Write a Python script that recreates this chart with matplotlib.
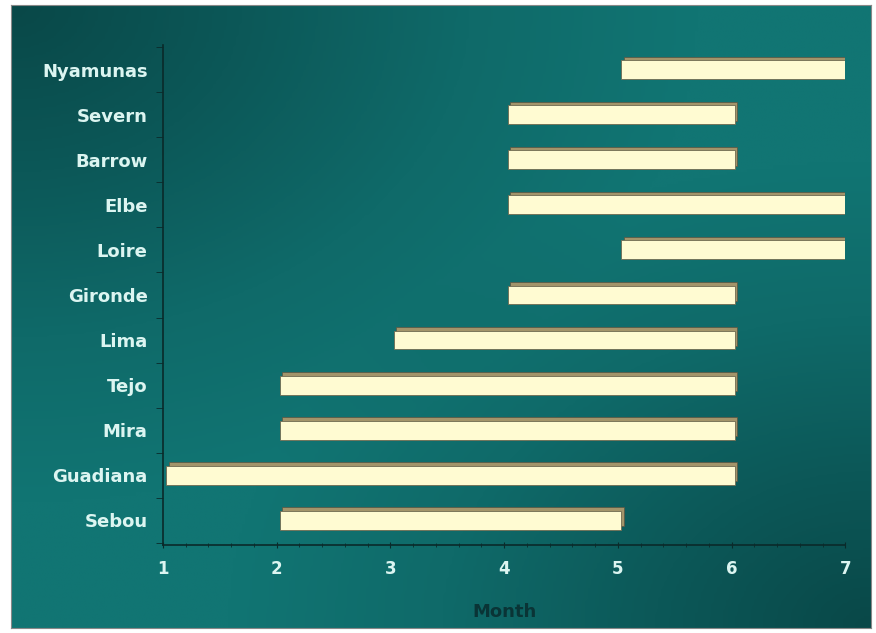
import numpy as np
import matplotlib
matplotlib.use("Agg")
import matplotlib.pyplot as plt
from matplotlib.colors import LinearSegmentedColormap

rivers = ["Sebou", "Guadiana", "Mira", "Tejo", "Lima", "Gironde",
          "Loire", "Elbe", "Barrow", "Severn", "Nyamunas"]
start_month = [2, 1, 2, 2, 3, 4, 5, 4, 4, 4, 5]
end_month = [5, 6, 6, 6, 6, 6, 7, 7, 6, 6, 7]

plt.rcParams["font.family"] = ["DejaVu Sans"]

fig = plt.figure(figsize=(8.76, 6.33), dpi=100)
fig.patch.set_facecolor("white")

# teal backdrop, darker towards top-left and bottom-right
bg = fig.add_axes([0.012, 0.008, 0.982, 0.984])
yy, xx = np.mgrid[0:1:200j, 0:1:300j]
tl = np.clip(1 - np.sqrt(xx ** 2 + yy ** 2) / 0.8, 0, 1)
br = np.clip(1 - np.sqrt((1 - xx) ** 2 + (1 - yy) ** 2) / 0.75, 0, 1)
dark = np.clip(tl + br, 0, 1)
cmap = LinearSegmentedColormap.from_list("teal", ["#117573", "#0f6a69", "#0c5858", "#094848"])
bg.imshow(dark, cmap=cmap, aspect="auto", extent=[0, 1, 0, 1], origin="upper", vmin=0, vmax=1)
bg.set_xticks([])
bg.set_yticks([])
for s in bg.spines.values():
    s.set_color("#888888")
    s.set_linewidth(0.8)

ax = fig.add_axes([0.186, 0.139, 0.779, 0.79])
ax.patch.set_alpha(0)
y = np.arange(len(rivers))
width = np.array(end_month) - np.array(start_month)
h = 0.42
# shaded top/side of each bar, then the face
ax.barh(y + 0.08, width, left=np.array(start_month) + 0.05, height=h,
        color="#a3946a", edgecolor="#5a5440", linewidth=0.5, zorder=2)
ax.barh(y, width, left=np.array(start_month) + 0.03, height=h, color="#fffbd2",
        edgecolor="#6e6a50", linewidth=0.6, zorder=3)

ax.set_xlim(1, 7)
ax.set_ylim(-0.55, len(rivers) - 0.45)
ax.set_xticks(range(1, 8))
ax.set_xticks(np.arange(1, 7.01, 0.2), minor=True)
ax.set_yticks(y)
ax.set_yticklabels(rivers)
ax.set_yticks(np.arange(-0.5, len(rivers), 1.0), minor=True)
ax.tick_params(axis="y", which="major", length=0, pad=11, labelsize=13,
               labelcolor="#dcf5f1")
ax.tick_params(axis="y", which="minor", length=5, color="#0a2a2a", direction="out")
ax.tick_params(axis="x", which="major", length=5, color="#0a2a2a", direction="inout",
               labelsize=12, labelcolor="#dcf5f1", pad=8)
ax.tick_params(axis="x", which="minor", length=3, color="#0a2a2a", direction="inout")
for lbl in ax.get_yticklabels() + ax.get_xticklabels():
    lbl.set_fontweight("bold")

for side in ["top", "right"]:
    ax.spines[side].set_visible(False)
for side in ["left", "bottom"]:
    ax.spines[side].set_color("#0a2a2a")
    ax.spines[side].set_linewidth(1.2)

ax.set_xlabel("Month", fontsize=13, fontweight="bold", color="#0a3436", labelpad=18)

fig.savefig("out.png", dpi=100, facecolor=fig.get_facecolor())
